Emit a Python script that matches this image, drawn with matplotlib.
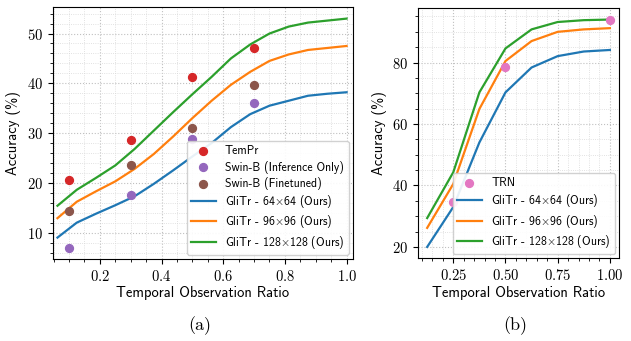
import matplotlib
matplotlib.use("Agg")
import matplotlib.pyplot as plt

plt.rcParams['mathtext.fontset'] = 'cm'
plt.rcParams['axes.formatter.use_mathtext'] = True
plt.rcParams['axes.unicode_minus'] = False

# ---- data: panel (a)
x_a = [1/16, 2/16, 3/16, 4/16, 5/16, 6/16, 7/16, 8/16,
       9/16, 10/16, 11/16, 12/16, 13/16, 14/16, 15/16, 16/16]
glitr64_a = [9.0, 12.0, 13.8, 15.5, 17.3, 19.8, 22.5, 25.3,
             28.0, 31.2, 33.8, 35.5, 36.5, 37.5, 37.9, 38.2]
glitr96_a = [12.9, 16.2, 18.3, 20.3, 22.8, 25.8, 29.3, 33.0,
             36.5, 39.7, 42.3, 44.5, 45.8, 46.7, 47.1, 47.5]
glitr128_a = [15.4, 18.6, 21.0, 23.5, 26.8, 30.5, 34.2, 37.8,
              41.3, 45.0, 47.8, 50.0, 51.4, 52.2, 52.6, 53.0]
pts_x_a = [0.1, 0.3, 0.5, 0.7]
tempr = [20.5, 28.6, 41.2, 47.1]
swin_inf = [7.0, 17.6, 28.9, 36.0]
swin_ft = [14.4, 23.5, 31.1, 39.6]

# ---- data: panel (b)
x_b = [0.125, 0.25, 0.375, 0.5, 0.625, 0.75, 0.875, 1.0]
glitr64_b = [20.0, 33.0, 54.0, 70.3, 78.4, 82.1, 83.6, 84.1]
glitr96_b = [26.2, 40.5, 64.9, 80.5, 87.0, 90.0, 90.8, 91.2]
glitr128_b = [29.4, 44.3, 70.3, 84.6, 90.8, 93.2, 93.8, 94.0]
trn_x = [0.25, 0.5, 1.0]
trn = [34.6, 78.4, 93.8]

labels = [r'GliTr - 64$\times$64 (Ours)', r'GliTr - 96$\times$96 (Ours)',
          r'GliTr - 128$\times$128 (Ours)']

SANS = ['cmss10', 'DejaVu Sans']
SERIF = ['cmr10', 'DejaVu Serif']

fig = plt.figure(figsize=(6.31, 3.41), dpi=100)
ax1 = fig.add_axes([0.0835, 0.2405, 0.4755, 0.7385])
ax2 = fig.add_axes([0.6625, 0.2425, 0.3185, 0.7335])


def style(ax):
    ax.minorticks_on()
    ax.grid(True, which='major', linestyle=':', color='#c0c0c0', linewidth=0.8)
    ax.grid(True, which='minor', linestyle=':', color='#d8d8d8', linewidth=0.6)
    ax.set_axisbelow(True)
    for lab in ax.get_xticklabels() + ax.get_yticklabels():
        lab.set_family(SERIF)
        lab.set_fontsize(10.5)
    ax.set_xlabel('Temporal Observation Ratio', family=SANS, fontsize=10.5, labelpad=2)
    ax.set_ylabel('Accuracy (%)', family=SANS, fontsize=10.5, labelpad=4)


legend_kw = dict(loc='lower right', prop={'family': SANS, 'size': 8.5},
                 borderaxespad=0.35, handlelength=2.1, labelspacing=0.28,
                 borderpad=0.35, framealpha=0.9)

h1 = ax1.scatter(pts_x_a, tempr, s=32, color='tab:red', label='TemPr', zorder=3)
h2 = ax1.scatter(pts_x_a, swin_inf, s=32, color='tab:purple', label='Swin-B (Inference Only)', zorder=3)
h3 = ax1.scatter(pts_x_a, swin_ft, s=32, color='tab:brown', label='Swin-B (Finetuned)', zorder=3)
l1, = ax1.plot(x_a, glitr64_a, color='tab:blue', lw=1.6, label=labels[0])
l2, = ax1.plot(x_a, glitr96_a, color='tab:orange', lw=1.6, label=labels[1])
l3, = ax1.plot(x_a, glitr128_a, color='tab:green', lw=1.6, label=labels[2])
ax1.set_xlim(0.047, 1.02)
ax1.set_xticks([0.2, 0.4, 0.6, 0.8, 1.0])
ax1.set_yticks([10, 20, 30, 40, 50])
style(ax1)
ax1.legend(handles=[h1, h2, h3, l1, l2, l3], **legend_kw)

g = ax2.scatter(trn_x, trn, s=32, color='tab:pink', label='TRN', zorder=3)
m1, = ax2.plot(x_b, glitr64_b, color='tab:blue', lw=1.6, label=labels[0])
m2, = ax2.plot(x_b, glitr96_b, color='tab:orange', lw=1.6, label=labels[1])
m3, = ax2.plot(x_b, glitr128_b, color='tab:green', lw=1.6, label=labels[2])
ax2.set_xticks([0.25, 0.5, 0.75, 1.0])
ax2.set_yticks([20, 40, 60, 80])
style(ax2)
ax2.legend(handles=[g, m1, m2, m3], **legend_kw)

fig.text(0.316, 0.045, '(a)', family=SERIF, fontsize=13, ha='center', va='center')
fig.text(0.816, 0.045, '(b)', family=SERIF, fontsize=13, ha='center', va='center')

fig.savefig('out.png', dpi=100)
